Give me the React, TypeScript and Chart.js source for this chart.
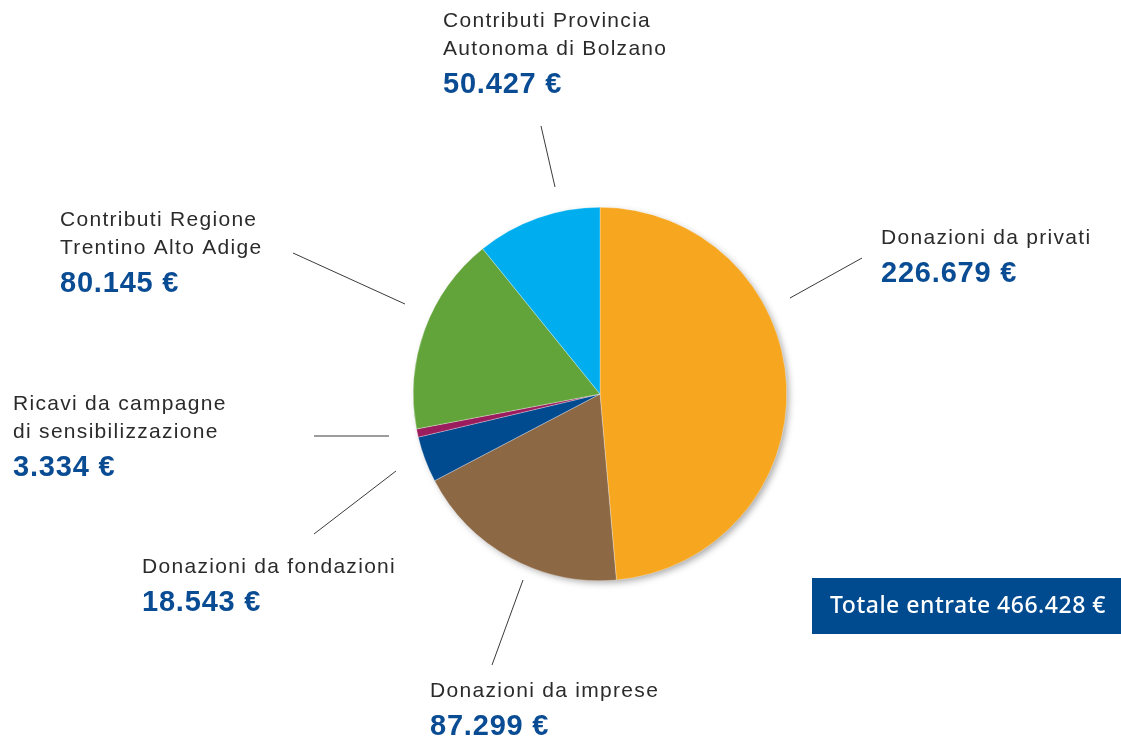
import { useEffect, useRef } from "react";
import { Chart, registerables } from "chart.js";

Chart.register(...registerables);

const categories = [
  "Donazioni da privati",
  "Donazioni da imprese",
  "Donazioni da fondazioni",
  "Ricavi da campagne di sensibilizzazione",
  "Contributi Regione Trentino Alto Adige",
  "Contributi Provincia Autonoma di Bolzano",
];
const labelLines = [
  ["Donazioni da privati"],
  ["Donazioni da imprese"],
  ["Donazioni da fondazioni"],
  ["Ricavi da campagne", "di sensibilizzazione"],
  ["Contributi Regione", "Trentino Alto Adige"],
  ["Contributi Provincia", "Autonoma di Bolzano"],
];
const values = [226679, 87299, 18543, 3334, 80145, 50427];
const colors = ["#F6A61F", "#8D6845", "#004A8F", "#9B1D5E", "#62A33A", "#00AEEF"];
const totalLabel = "Totale entrate";
const totalValue = 466428;

// annotation layout (label anchor + leader line)
const annoLayout = [
  { x: 881, y: 244, line: [790, 298, 862, 258] },
  { x: 430, y: 697, line: [523, 580, 492, 665] },
  { x: 142, y: 573, line: [396, 471, 314, 534] },
  { x: 13, y: 410, line: [389, 436, 314, 436] },
  { x: 60, y: 226, line: [405, 304, 293, 253] },
  { x: 443, y: 27, line: [555, 187, 541, 126] },
];

const fmt = (v: number) => String(v).replace(/\B(?=(\d{3})+(?!\d))/g, ".") + " €";

const shadowPlugin = {
  id: "pieShadow",
  beforeDatasetsDraw(chart: any) {
    const arc = chart.getDatasetMeta(0).data[0];
    if (!arc) return;
    const ctx = chart.ctx;
    ctx.save();
    ctx.shadowColor = "rgba(0,0,0,0.35)";
    ctx.shadowBlur = 7;
    ctx.shadowOffsetX = 3;
    ctx.shadowOffsetY = 3;
    ctx.fillStyle = "#ffffff";
    ctx.beginPath();
    ctx.arc(arc.x, arc.y, arc.outerRadius - 1, 0, Math.PI * 2);
    ctx.fill();
    ctx.restore();
  },
};

const labelsPlugin = {
  id: "annoLabels",
  afterDraw(chart: any) {
    const ctx = chart.ctx;
    ctx.save();
    annoLayout.forEach((a, i) => {
      ctx.strokeStyle = "#3a3a3a";
      ctx.lineWidth = 1;
      ctx.beginPath();
      ctx.moveTo(a.line[0], a.line[1]);
      ctx.lineTo(a.line[2], a.line[3]);
      ctx.stroke();
      ctx.textAlign = "left";
      ctx.textBaseline = "alphabetic";
      (ctx as any).letterSpacing = "1.3px";
      ctx.fillStyle = "#2b2b2b";
      ctx.font = "21px 'Liberation Sans', Arial, sans-serif";
      const lines = labelLines[i];
      lines.forEach((t, j) => ctx.fillText(t, a.x, a.y + j * 28));
      (ctx as any).letterSpacing = "0.8px";
      ctx.fillStyle = "#0A4C93";
      ctx.font = "bold 29px 'Liberation Sans', Arial, sans-serif";
      ctx.fillText(fmt(values[i]), a.x, a.y + (lines.length - 1) * 28 + 38);
    });
    // total box
    (ctx as any).letterSpacing = "0.5px";
    ctx.fillStyle = "#004A8F";
    ctx.fillRect(812, 578, 309, 56);
    ctx.fillStyle = "#ffffff";
    ctx.font = "500 23px 'Noto Sans', sans-serif";
    ctx.textAlign = "center";
    ctx.fillText(totalLabel + " " + fmt(totalValue), 968, 613);
    ctx.restore();
  },
};

export default function App() {
  const ref = useRef<HTMLCanvasElement>(null);
  useEffect(() => {
    if (!ref.current) return;
    const chart = new Chart(ref.current, {
      type: "pie",
      data: {
        labels: categories,
        datasets: [
          {
            data: values,
            backgroundColor: colors,
            borderWidth: 0.5,
            borderColor: "rgba(255,255,255,0.6)",
          },
        ],
      },
      options: {
        responsive: false,
        animation: false,
        layout: { padding: { left: 413, right: 334, top: 207, bottom: 159 } },
        plugins: { legend: { display: false }, tooltip: { enabled: false } },
      },
      plugins: [shadowPlugin, labelsPlugin],
    });
    return () => chart.destroy();
  }, []);
  return (
    <div style={{ position: "fixed", left: 0, top: 0, width: 1121, height: 740, background: "#fff" }}>
      <canvas ref={ref} width={1121} height={740} style={{ display: "block" }} />
    </div>
  );
}
